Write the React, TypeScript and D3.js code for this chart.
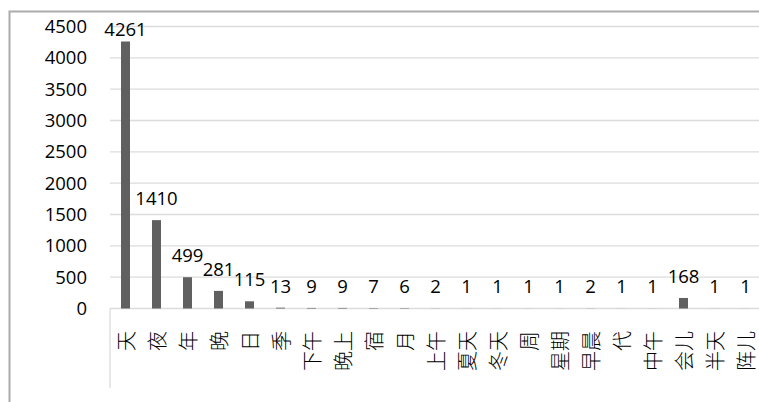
import * as React from 'react';
import * as d3 from 'd3';

const categories = ['天', '夜', '年', '晚', '日', '季', '下午', '晚上', '宿', '月', '上午', '夏天', '冬天', '周', '星期', '早晨', '代', '中午', '会儿', '半天', '阵儿'];
const counts = [4261, 1410, 499, 281, 115, 13, 9, 9, 7, 6, 2, 1, 1, 1, 1, 2, 1, 1, 168, 1, 1];
const yTicks = [0, 500, 1000, 1500, 2000, 2500, 3000, 3500, 4000, 4500];

const width = 759,
  height = 402;

export default function App() {
  const x = d3.scaleBand<string>()
    .domain(categories)
    .range([110, 761])
    .paddingInner(0.71)
    .paddingOuter(0.355);
  const y = d3.scaleLinear()
    .domain([0, 4500])
    .range([308.5, 26.5]);

  const numFont = "'Open Sans', 'Liberation Sans', sans-serif";
  const cjkFont = "'Noto Sans CJK SC', sans-serif";

  return (
    <svg width={width} height={height}
      style={{ position: 'absolute', left: 0, top: 0, background: '#fff' }}>
      <rect x={9.5} y={11.5} width={width + 20} height={height + 20}
        fill="#fff" stroke="#ababab" strokeWidth={2} />

      {yTicks.map(t => (
        <g key={t}>
          <line x1={110} x2={761} y1={y(t)} y2={y(t)} stroke="#dcdcdc" strokeWidth={1.3} />
          <text x={87} y={y(t)} dy="0.36em" textAnchor="end"
            fontFamily={numFont} fontSize={18.5} fill="#000">{t}</text>
        </g>
      ))}
      <line x1={110} x2={110} y1={y(0)} y2={388} stroke="#dcdcdc" strokeWidth={1.3} />

      {categories.map((c, i) => {
        const cx = (x(c) as number) + x.bandwidth() / 2;
        const v = counts[i];
        return (
          <g key={c}>
            <rect x={x(c)} y={y(v)} width={x.bandwidth()} height={y(0) - y(v)} fill="#606060" />
            <text x={cx} y={Math.max(y(v) - 15, 36)} textAnchor="middle"
              fontFamily={numFont} fontSize={18.5} fill="#000">{v}</text>
            <text transform={`translate(${cx},331) rotate(-90)`} textAnchor="end"
              dominantBaseline="central" fontFamily={cjkFont} fontWeight={300}
              fontSize={20} fill="#000">{c}</text>
          </g>
        );
      })}
    </svg>
  );
}
